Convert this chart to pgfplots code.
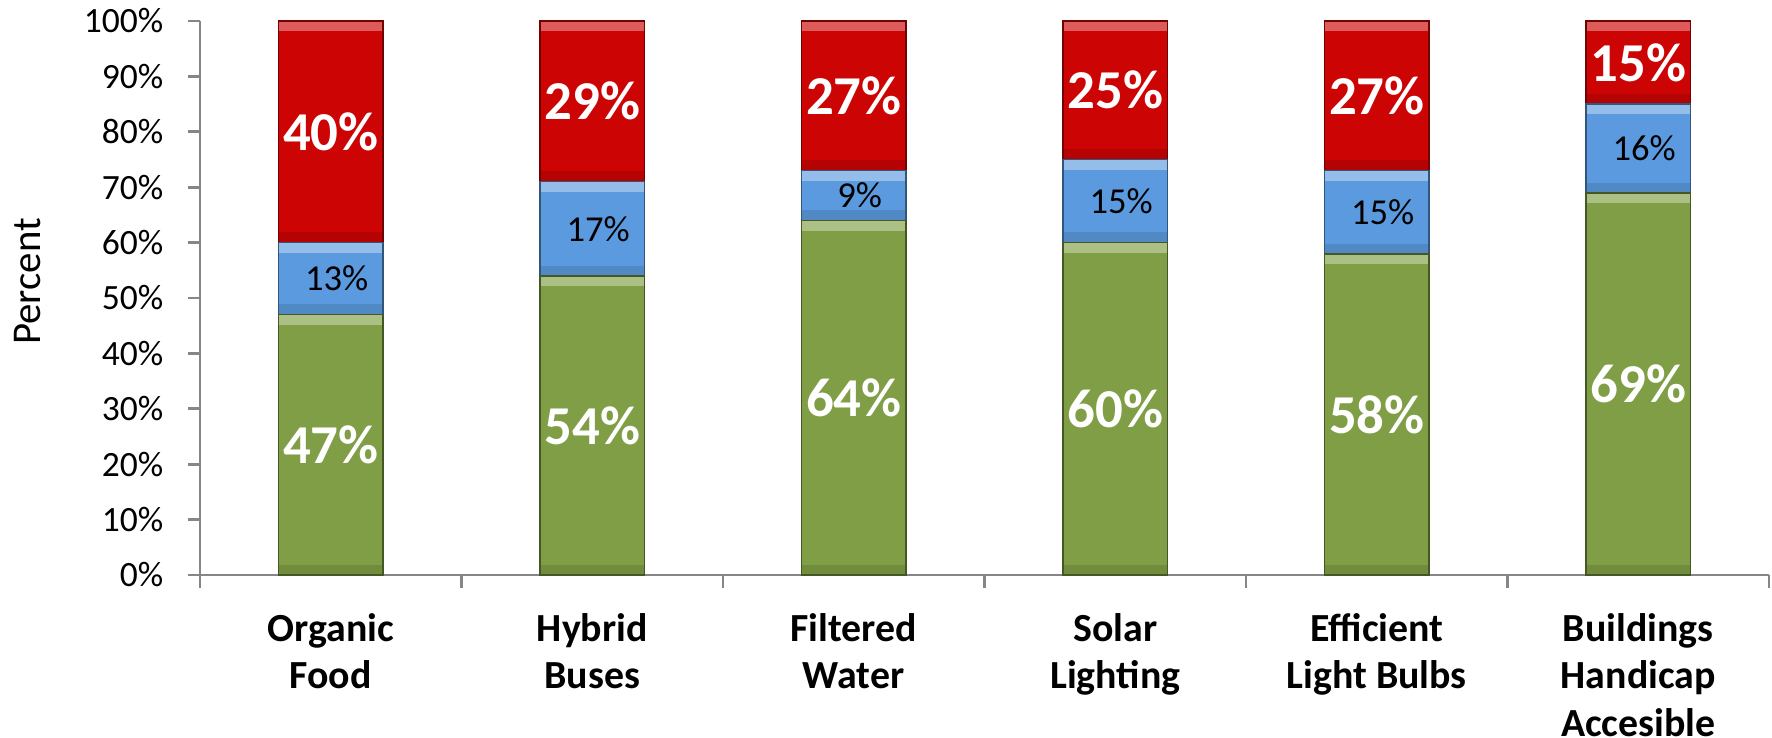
\documentclass[border=0pt]{standalone}
\usepackage{pgfplots}
\pgfplotsset{compat=1.18}
\usepackage{pgfplotstable}
\usetikzlibrary{shapes.geometric}
\usepackage{fontspec}
\setmainfont{Carlito}
\definecolor{cred}{RGB}{204,4,4}
\definecolor{cblue}{RGB}{91,154,222}
\definecolor{cgreen}{RGB}{128,158,69}
\definecolor{axgray}{RGB}{134,134,134}

\pgfplotstableread{
x green blue red
0 47 13 40
1 54 17 29
2 64 9 27
3 60 15 25
4 58 15 27
5 69 16 15
}\datatable

% label positions (segment middles) and values
\pgfplotstableread{
x y v
0 23.5 47
1 27 54
2 32 64
3 30 60
4 29 58
5 34.5 69
}\greenlab
\pgfplotstableread{
x y v
0 53.5 13
1 62.5 17
2 68.5 9
3 67.5 15
4 65.5 15
5 77 16
}\bluelab
\pgfplotstableread{
x y v
0 80 40
1 85.5 29
2 86.5 27
3 87.5 25
4 86.5 27
5 92.5 15
}\redlab

% segment tops (light bevel) and segment bottoms (dark bevel)
\pgfplotstableread{
x y
0 47
0 60
0 100
1 54
1 71
1 100
2 64
2 73
2 100
3 60
3 75
3 100
4 58
4 73
4 100
5 69
5 85
5 100
}\segtops
\pgfplotstableread{
x y
0 0
0 47
0 60
1 0
1 54
1 71
2 0
2 64
2 73
3 0
3 60
3 75
4 0
4 58
4 73
5 0
5 69
5 85
}\segbottoms

\pgfplotsset{
  mybase/.style={scale only axis, width=470.7bp, height=166.2bp,
    xmin=-0.5, xmax=5.5, ymin=0, ymax=100, clip=false},
  lab/.style={draw=none, mark=none, point meta=explicit symbolic,
    nodes near coords={\pgfplotspointmeta\%},
    every node near coord/.append style={anchor=center, inner sep=0pt}},
  bev/.style={draw=none, mark=none, nodes near coords={\relax},
    every node near coord/.append style={shape=trapezium, trapezium angle=45,
      trapezium stretches body, minimum width=31bp, minimum height=2.8bp,
      inner sep=0pt, outer sep=0pt, anchor=center, draw=none, text opacity=0}},
}

\begin{document}
\begin{tikzpicture}
\useasboundingbox (-60bp,-48.9bp) rectangle (471.6bp,172.5bp);
\begin{axis}[mybase,
  ybar stacked, bar width=0.4,
  axis x line*=bottom, axis y line*=left,
  axis line style={axgray, line width=0.8bp},
  tick align=outside,
  /pgf/number format/assume math mode=true,
  ytick={0,10,...,100},
  yticklabel={\pgfmathprintnumber{\tick}\%},
  major tick length=3.6bp,
  minor tick length=3.9bp,
  y tick style={axgray, line width=0.8bp},
  xtick={0,...,5},
  major x tick style={draw=none},
  minor xtick={-0.5,0.5,...,5.5},
  minor x tick style={axgray, line width=0.8bp},
  xticklabels={{Organic\\Food},{Hybrid\\Buses},{Filtered\\Water},{Solar\\Lighting},{Efficient\\Light Bulbs},{Buildings\\Handicap\\Accesible}},
  yticklabel style={font=\fontsize{10.7}{12}\selectfont, xshift=-3.9bp},
  xticklabel style={align=center, font=\bfseries\fontsize{12}{14.3}\selectfont, yshift=-4.4bp},
  ylabel={Percent},
  ylabel style={at={(axis description cs:-0.1096,0.53)}, anchor=center, font=\fontsize{12.3}{14}\selectfont},
]
\addplot[fill=cgreen, draw=cgreen!55!black, line width=0.5bp] table[x=x,y=green]{\datatable};
\addplot[fill=cblue, draw=cblue!55!black, line width=0.5bp] table[x=x,y=blue]{\datatable};
\addplot[fill=cred, draw=cred!55!black, line width=0.5bp] table[x=x,y=red]{\datatable};
\end{axis}
\begin{axis}[mybase, hide axis]
\addplot[bev, every node near coord/.append style={shape border rotate=180, fill=white, fill opacity=0.35, yshift=-1.65bp}] table[x=x,y=y]{\segtops};
\addplot[bev, every node near coord/.append style={fill=black, fill opacity=0.11, yshift=1.65bp}] table[x=x,y=y]{\segbottoms};
\addplot[lab, every node near coord/.append style={text=white, font=\bfseries\fontsize{16.5}{18}\selectfont}] table[x=x,y=y,meta=v]{\greenlab};
\addplot[lab, every node near coord/.append style={text=black, xshift=1.8bp, font=\fontsize{11}{12}\selectfont}] table[x=x,y=y,meta=v]{\bluelab};
\addplot[lab, every node near coord/.append style={text=white, font=\bfseries\fontsize{16.5}{18}\selectfont}] table[x=x,y=y,meta=v]{\redlab};
\end{axis}
\end{tikzpicture}
\end{document}
